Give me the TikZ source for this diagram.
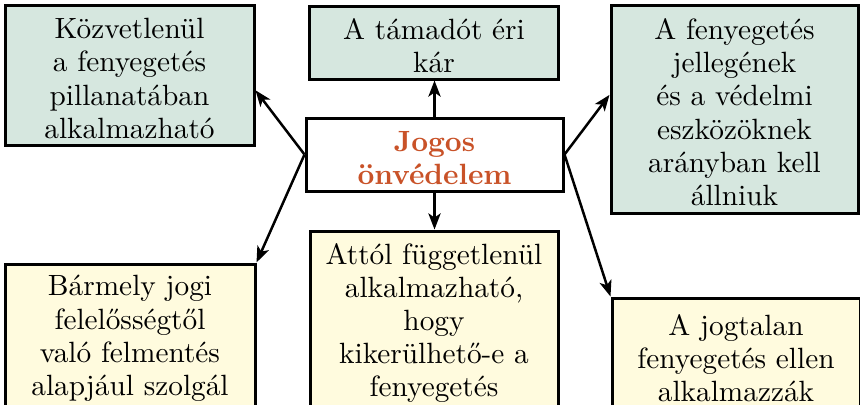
\documentclass[tikz,border=0pt]{standalone}
\usetikzlibrary{arrows.meta,calc}
\definecolor{boxgreen}{RGB}{214,231,223}
\definecolor{boxyellow}{RGB}{255,251,222}
\definecolor{titlered}{RGB}{201,82,40}
\newcommand{\topstrut}{\rule{0pt}{9.8pt}}
\begin{document}
\begin{tikzpicture}[x=0.36pt,y=-0.36pt,
  box/.style={draw=black, line width=1.08pt, align=center, inner sep=0pt,
    font=\fontsize{10.55}{11.95}\selectfont},
  greenbox/.style={box, fill=boxgreen},
  yellowbox/.style={box, fill=boxyellow},
  mainbox/.style={box, fill=white, text=titlered, font=\fontsize{10.55}{11.95}\selectfont\bfseries},
  conn/.style={draw=black, line width=0.9pt, -{Stealth[length=5.8pt,width=4.4pt,inset=1.5pt]}}
]
\useasboundingbox (0,0) rectangle (860,404);
\fill[white] (0,0) rectangle (860,404);
\begin{scope}
\clip (0,0) rectangle (860,404);
\node[mainbox, minimum width=92.52pt, minimum height=26.28pt] (c) at (434.5,154.5) {\topstrut Jogos\\önvédelem};
\node[greenbox, minimum width=89.64pt, minimum height=50.4pt] (tl) at (129.5,75) {\topstrut Közvetlenül\\a fenyegetés\\pillanatában\\alkalmazható};
\node[greenbox, minimum width=89.64pt, minimum height=26.28pt] (tc) at (434,42.5) {\topstrut A támadót éri\\kár};
\node[greenbox, minimum width=88.92pt, minimum height=74.88pt] (tr) at (734.5,109) {\topstrut A fenyegetés\\jellegének\\és a védelmi\\eszközöknek\\arányban kell\\állniuk};
\node[yellowbox, minimum width=90pt, minimum height=51.12pt] (bl) at (130,335) {\topstrut Bármely jogi\\felelősségtől\\való felmentés\\alapjául szolgál};
\node[yellowbox, minimum width=89.28pt, minimum height=64.08pt] (bc) at (434,320) {\topstrut Attól függetlenül\\alkalmazható,\\hogy\\kikerülhető-e a\\fenyegetés};
\node[yellowbox, minimum width=89.28pt, minimum height=41.04pt] (br) at (736,355) {\topstrut A jogtalan\\fenyegetés ellen\\alkalmazzák};
\coordinate (tlend) at ($(tl.north east)!0.607!(tl.south east)$);
\coordinate (trend) at ($(tr.north west)!0.433!(tr.south west)$);
\draw[conn] (c.north) -- (c.north |- tc.south);
\draw[conn] (c.south) -- (c.south |- bc.north);
\draw[conn] (c.west) -- (tlend);
\draw[conn] (c.west) -- (bl.north east);
\draw[conn] (c.east) -- (trend);
\draw[conn] (c.east) -- (br.north west);
\end{scope}
\end{tikzpicture}
\end{document}
